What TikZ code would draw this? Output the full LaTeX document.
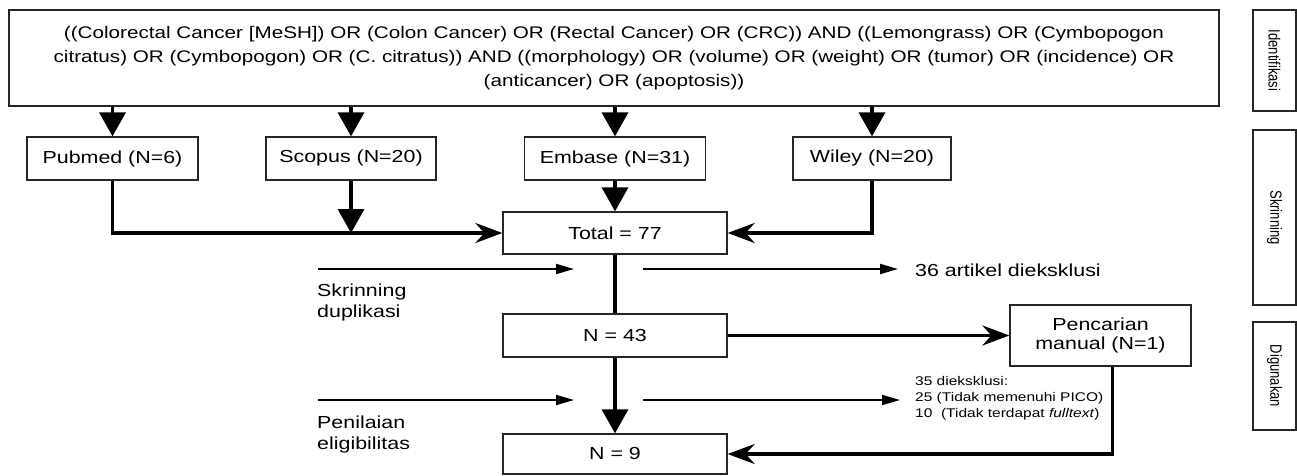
\documentclass[tikz,border=0pt]{standalone}
\usepackage{fontspec}
\setmainfont{Liberation Sans}[FakeStretch=1.23]
\newfontfamily\sidefont{Liberation Sans}
\usepackage{tikz}
\usetikzlibrary{shapes,arrows.meta,positioning}
\tikzstyle{box} = [rectangle, draw=black!85, line width=1.3pt, inner sep=0pt,
    align=center, font=\fontsize{17.4}{24}\selectfont]
\tikzstyle{sidebox} = [rectangle, draw=black!85, line width=1.2pt, inner sep=0pt,
    rotate=-90, minimum height=43pt, font=\sidefont\fontsize{13}{15}\selectfont]
\tikzstyle{steptext} = [inner sep=0pt, align=left, font=\fontsize{17.4}{21}\selectfont]
\tikzstyle{line} = [draw, line width=3.6pt, -{Triangle[length=24pt,width=26pt]}]
\tikzstyle{merge} = [draw, line width=3.6pt, -{Stealth[length=27pt,width=20pt,inset=9pt]}]
\tikzstyle{bar} = [draw, line width=3.6pt]
\tikzstyle{stage} = [draw, line width=2pt, -{Triangle[length=18pt,width=10pt]}]
\newcommand{\tallside}[1]{\scalebox{1}[1.25]{#1}}

\begin{document}
\begin{tikzpicture}
[x=1pt, y=-1pt]
    \useasboundingbox (0,0) rectangle (1297,476);
    % Place nodes
    \node [box, minimum width=1210pt, minimum height=96pt, font=\fontsize{16.8}{24}\selectfont] (query) at (614,58)
        {((Colorectal Cancer [MeSH]) OR (Colon Cancer) OR (Rectal Cancer) OR (CRC)) AND ((Lemongrass) OR (Cymbopogon\\
         citratus) OR (Cymbopogon) OR (C. citratus)) AND ((morphology) OR (volume) OR (weight) OR (tumor) OR (incidence) OR\\
         (anticancer) OR (apoptosis))};

    \node [box, minimum width=171pt, minimum height=43pt] (pubmed) at (112.5,158.5) {Pubmed (N=6)};
    \node [box, minimum width=170pt, minimum height=43pt] (scopus) at (351,158.5) {Scopus (N=20)};
    \node [box, minimum width=181pt, minimum height=43pt] (embase) at (615,158.5) {Embase (N=31)};
    \node [box, minimum width=158pt, minimum height=43pt] (wiley) at (872,158.5) {Wiley (N=20)};

    \node [box, minimum width=224pt, minimum height=42pt] (total) at (615,233) {Total = 77};
    \node [box, minimum width=224pt, minimum height=43pt] (n43) at (615,335.5) {N = 43};
    \node [box, minimum width=181pt, minimum height=61pt, font=\fontsize{17.4}{19}\selectfont] (manual) at (1100.5,335.5) {Pencarian\\manual (N=1)};
    \node [box, minimum width=224pt, minimum height=40pt] (n9) at (615,454) {N = 9};

    \node [steptext, anchor=north west] (dup) at (317,284) {Skrinning\\duplikasi};
    \node [steptext, anchor=north west] (elig) at (317,416) {Penilaian\\eligibilitas};
    \node [steptext, anchor=west] (excl1) at (915,270) {36 artikel dieksklusi};
    \node [inner sep=0pt, align=left, anchor=north west, font=\fontsize{12.6}{16}\selectfont] (excl2) at (915,376)
        {35 dieksklusi:\\25 (Tidak memenuhi PICO)\\10\ \ (Tidak terdapat \textit{fulltext})};

    \node [sidebox, minimum width=101pt] (identifikasi) at (1274.5,60.5) {\tallside{Identifikasi}};
    \node [sidebox, minimum width=175pt] (skrinning) at (1274.5,217.5) {\tallside{Skrinning}};
    \node [sidebox, minimum width=108pt] (digunakan) at (1274.5,376) {\tallside{Digunakan}};

    \coordinate (dupin) at (318,269);
    \coordinate (dupout) at (574,269);
    \coordinate (excl1in) at (643,269);
    \coordinate (excl1out) at (898,269);
    \coordinate (eligin) at (318,400);
    \coordinate (eligout) at (574,400);
    \coordinate (excl2in) at (643,400);
    \coordinate (excl2out) at (900,400);
    \coordinate (mandrop) at ([xshift=12pt]manual.south);

    % Draw edges
    \path [line] (query.south -| pubmed) -- (pubmed);
    \path [line] (query.south -| scopus) -- (scopus);
    \path [line] (query.south -| embase) -- (embase);
    \path [line] (query.south -| wiley) -- (wiley);

    \path [merge] (pubmed) -- (pubmed |- total) -- (total);
    \path [line] (scopus) -- (scopus |- total);
    \path [line] (embase) -- (total);
    \path [merge] (wiley) -- (wiley |- total) -- (total);

    \path [bar] (total) -- (n43);
    \path [line] (n43) -- (n9);
    \path [merge] (n43) -- (manual);
    \path [merge] (mandrop) -- (mandrop |- n9) -- (n9);

    \path [stage] (dupin) -- (dupout);
    \path [stage] (excl1in) -- (excl1out);
    \path [stage] (eligin) -- (eligout);
    \path [stage] (excl2in) -- (excl2out);

\end{tikzpicture}
\end{document}
